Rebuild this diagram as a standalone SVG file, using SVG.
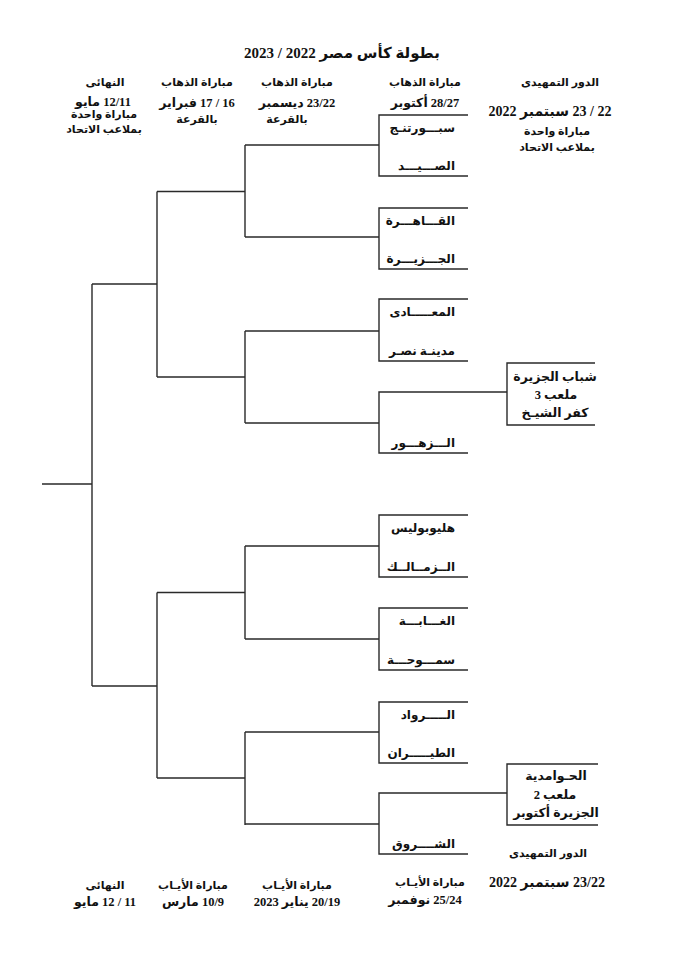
<svg xmlns="http://www.w3.org/2000/svg" width="681" height="960" viewBox="0 0 681 960">
<style>
.ln{stroke:#2a2a2a;stroke-width:1.4;fill:none}
text{font-family:'Liberation Serif','DejaVu Sans',serif;font-weight:bold;fill:#111;text-anchor:middle;direction:rtl}
.h{font-size:11px}
.d{font-size:12.5px}
.dl{font-size:14px}
.t{font-size:12px;text-anchor:start}
.b{font-size:12.5px}
.title{font-size:15px}
</style>
<rect width="681" height="960" fill="#fff"/>
<text class="title" x="342" y="58" direction="rtl">بطولة كأس مصر 2022 / 2023</text>
<g id="headers">
<text class="h" x="105" y="86">النهائى</text>
<text class="d" x="103" y="105.5" direction="rtl">12/11 مايو</text>
<text class="h" x="104" y="118">مباراة واحدة</text>
<text class="h" x="104" y="133">بملاعب الاتحاد</text>
<text class="h" x="197" y="86">مباراة الذهاب</text>
<text class="d" x="197" y="107" direction="rtl">16 / 17 فبراير</text>
<text class="h" x="197" y="123">بالقرعة</text>
<text class="h" x="297" y="86">مباراة الذهاب</text>
<text class="d" x="297" y="107" direction="rtl">23/22 ديسمبر</text>
<text class="h" x="287" y="123">بالقرعة</text>
<text class="h" x="425" y="86">مباراة الذهاب</text>
<text class="d" x="425" y="107" direction="rtl">28/27 أكتوبر</text>
<text class="h" x="560" y="86">الدور التمهيدى</text>
<text class="dl" x="550" y="116" direction="rtl">22 / 23 سبتمبر 2022</text>
<text class="h" x="557" y="135">مباراة واحدة</text>
<text class="h" x="557" y="151">بملاعب الاتحاد</text>
</g>
<g id="footers">
<text class="h" x="105" y="889">النهائى</text>
<text class="d" x="105" y="906" direction="rtl">11 / 12 مايو</text>
<text class="h" x="193" y="889">مباراة الأيـاب</text>
<text class="d" x="193" y="906" direction="rtl">10/9 مارس</text>
<text class="h" x="297" y="889">مباراة الأيـاب</text>
<text class="d" x="297" y="906" direction="rtl">20/19 يناير 2023</text>
<text class="h" x="430" y="886">مباراة الأيـاب</text>
<text class="d" x="425" y="904" direction="rtl">25/24 نوفمبر</text>
<text class="h" x="548" y="857">الدور التمهيدى</text>
<text class="dl" x="547" y="887" direction="rtl">23/22 سبتمبر 2022</text>
</g>
<g id="connectors">
<path class="ln" d="M468,115H379V176H468M245,145H379"/>
<path class="ln" d="M468,208H379V269H468M245,237H379"/>
<path class="ln" d="M468,299H379V361H468M245,331H379"/>
<path class="ln" d="M507,392H379V453H468M245,423H379"/>
<path class="ln" d="M468,515H379V577H468M245,546H379"/>
<path class="ln" d="M468,608H379V670H468M245,639H379"/>
<path class="ln" d="M468,702H379V763H468M245,732H379"/>
<path class="ln" d="M507,793H379V854H468M245,824H379"/>
<path class="ln" d="M245,145V237M245,331V423M245,546V639M245,732V825"/>
<path class="ln" d="M157,191.5H245M157,377H245M157,592.5H245M157,778H245"/>
<path class="ln" d="M157,191.5V377M157,592.5V778"/>
<path class="ln" d="M92,284H157M92,686H157M92,284V686M42,484H92"/>
</g>
<g id="m1"><text class="t" x="455" y="132" direction="rtl">سبـــورتنـج</text><text class="t" x="455" y="170" direction="rtl">الصـــيـــد</text></g>
<g id="m2"><text class="t" x="455" y="225" direction="rtl">القـــاهـــرة</text><text class="t" x="455" y="263" direction="rtl">الجـــزيـــرة</text></g>
<g id="m3"><text class="t" x="455" y="316" direction="rtl">المعـــــادى</text><text class="t" x="455" y="355" direction="rtl">مدينـة نصـر</text></g>
<g id="m4"><text class="t" x="455" y="447" direction="rtl">الـــزهـــور</text></g>
<g id="m5"><text class="t" x="455" y="532" direction="rtl">هليوبوليس</text><text class="t" x="455" y="571" direction="rtl">الــزمــالــك</text></g>
<g id="m6"><text class="t" x="455" y="625" direction="rtl">الغـــابـــة</text><text class="t" x="455" y="664" direction="rtl">سمـــوحـــة</text></g>
<g id="m7"><text class="t" x="455" y="719" direction="rtl">الـــــرواد</text><text class="t" x="455" y="757" direction="rtl">الطيـــــران</text></g>
<g id="m8"><text class="t" x="455" y="848" direction="rtl">الشــــروق</text></g>
<g id="p1">
<path class="ln" d="M595,363H507V425H595"/>
<text class="b" x="555" y="381" direction="rtl">شباب الجزيرة</text>
<text class="b" x="556" y="399" direction="rtl">ملعب 3</text>
<text class="b" x="555" y="417" direction="rtl">كفر الشيـخ</text>
</g>
<g id="p2">
<path class="ln" d="M598,764H507V825H598"/>
<text class="b" x="556" y="780" direction="rtl">الحـوامدية</text>
<text class="b" x="555" y="799" direction="rtl">ملعب 2</text>
<text class="b" x="556" y="817" direction="rtl">الجزيرة أكتوبر</text>
</g>
</svg>
